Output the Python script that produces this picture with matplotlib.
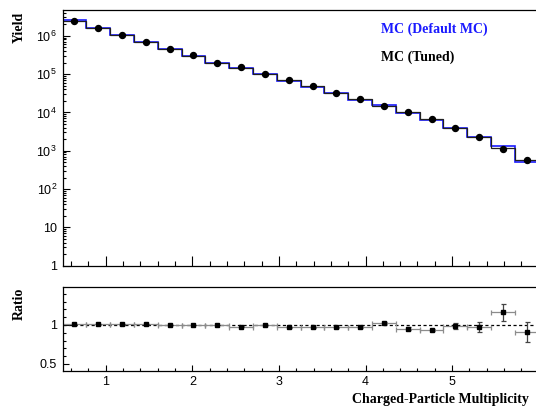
import numpy as np
import matplotlib
matplotlib.use("Agg")
import matplotlib.pyplot as plt
from matplotlib.ticker import FixedLocator, MultipleLocator, LogLocator, FuncFormatter, NullFormatter

# --- data ---
x_lo, x_hi, n_bins = 0.5, 6.0, 20
x_major = [1, 2, 3, 4, 5]

data_yield = [2.5e6, 1.57e6, 1.05e6, 6.7e5, 4.4e5, 3.1e5, 2.0e5, 1.5e5, 9.8e4, 6.8e4,
              4.8e4, 3.3e4, 2.2e4, 1.45e4, 1.0e4, 6.7e3, 3.85e3, 2.35e3, 1.13e3, 590]
mc_tuned = [2.5e6, 1.6e6, 1.05e6, 6.8e5, 4.4e5, 3.05e5, 2.0e5, 1.45e5, 9.8e4, 6.8e4,
            4.75e4, 3.25e4, 2.2e4, 1.5e4, 1.0e4, 6.9e3, 3.9e3, 2.35e3, 1.15e3, 572]
mc_default = [2.52e6, 1.61e6, 1.06e6, 6.85e5, 4.4e5, 3.05e5, 2.0e5, 1.42e5, 9.8e4, 6.6e4,
              4.6e4, 3.15e4, 2.15e4, 1.53e4, 9.5e3, 6.5e3, 3.85e3, 2.3e3, 1.33e3, 520]

ratio = [1.01, 1.01, 1.01, 1.01, 1.0, 1.0, 1.0, 0.98, 1.0, 0.97,
         0.97, 0.97, 0.974, 1.02, 0.953, 0.936, 0.99, 0.974, 1.163, 0.91]
ratio_err = [0.004, 0.004, 0.004, 0.004, 0.005, 0.005, 0.005, 0.006, 0.006, 0.007,
             0.008, 0.009, 0.01, 0.012, 0.015, 0.018, 0.04, 0.06, 0.11, 0.13]

serif = ["Liberation Serif", "DejaVu Serif"]
plt.rcParams["font.family"] = ["Liberation Sans", "DejaVu Sans"]
plt.rcParams["mathtext.fontset"] = "custom"
plt.rcParams["mathtext.rm"] = "Liberation Sans"
plt.rcParams["mathtext.it"] = "Liberation Sans:italic"

edges = np.linspace(x_lo, x_hi, n_bins + 1)
centers = 0.5 * (edges[:-1] + edges[1:])
half_w = 0.5 * (edges[1] - edges[0])

fig = plt.figure(figsize=(5.36, 4.09), dpi=100)
W, H = 536.0, 409.0
ax = fig.add_axes([62.5 / W, 1 - 265.7 / H, (538.7 - 62.5) / W, (265.7 - 10) / H])
axr = fig.add_axes([62.5 / W, 1 - 370.7 / H, (538.7 - 62.5) / W, (370.7 - 287.3) / H])

# --- top panel: yields ---
ax.stairs(mc_default, edges, baseline=None, color="#1a1aff", lw=1.2)
ax.stairs(mc_tuned, edges, baseline=None, color="#202020", lw=0.9)
ax.plot(centers, data_yield, "o", color="black", ms=4.3, zorder=5)

ax.set_yscale("log")
ax.set_xlim(x_lo, x_hi)
ax.set_ylim(1, 4.7e6)
ax.yaxis.set_major_locator(LogLocator(base=10, numticks=10))
ax.yaxis.set_minor_locator(LogLocator(base=10, subs=np.arange(2, 10), numticks=20))
ax.yaxis.set_minor_formatter(NullFormatter())


def fmt_log(v, pos):
    if v <= 1.0001:
        return "1"
    e = int(round(np.log10(v)))
    if e == 1:
        return "10"
    return r"$\mathregular{10^{%d}}$" % e


ax.yaxis.set_major_formatter(FuncFormatter(fmt_log))
ax.tick_params(axis="y", which="major", direction="in", length=5, width=0.8, labelsize=9, pad=4)
ax.tick_params(axis="y", which="minor", direction="in", length=2.5, width=0.8)
ax.tick_params(axis="x", which="major", direction="in", length=7, width=0.8, labelbottom=False)
ax.tick_params(axis="x", which="minor", direction="in", length=3.5, width=0.8)
ax.xaxis.set_major_locator(FixedLocator(x_major))
ax.xaxis.set_minor_locator(MultipleLocator(0.2))

ax.text(381 / W, 1 - 29 / H, "MC (Default MC)", transform=fig.transFigure, color="#1a1aff",
        fontsize=10, fontweight="bold", family=serif, va="center", ha="left")
ax.text(381 / W, 1 - 57.5 / H, "MC (Tuned)", transform=fig.transFigure, color="black",
        fontsize=10, fontweight="bold", family=serif, va="center", ha="left")

# --- bottom panel: ratio ---
axr.axhline(1.0, color="black", lw=0.9, ls=(0, (2.5, 2)), zorder=1)
axr.errorbar(centers, ratio, xerr=half_w, fmt="none", ecolor="#8c8c8c", elinewidth=0.9,
             capsize=1.8, capthick=0.9, zorder=2)
axr.errorbar(centers, ratio, yerr=ratio_err, fmt="s", color="black", ms=3,
             ecolor="#444444", elinewidth=0.9, capsize=1.8, capthick=0.9, zorder=3)

axr.set_xlim(x_lo, x_hi)
axr.set_ylim(0.414, 1.483)
axr.yaxis.set_major_locator(FixedLocator([0.5, 1.0]))
axr.yaxis.set_major_formatter(FuncFormatter(lambda v, p: "1" if abs(v - 1) < 1e-6 else "%g" % v))
axr.yaxis.set_minor_locator(MultipleLocator(0.1))
axr.xaxis.set_major_locator(FixedLocator(x_major))
axr.xaxis.set_minor_locator(MultipleLocator(0.2))
axr.tick_params(axis="both", which="major", direction="in", length=4.5, width=0.8, labelsize=9, pad=4)
axr.tick_params(axis="both", which="minor", direction="in", length=2.2, width=0.8)

for a in (ax, axr):
    for s in a.spines.values():
        s.set_linewidth(0.9)

fig.text(19.5 / W, 1 - 12 / H, "Yield", rotation=90, ha="center", va="top",
         fontsize=10, fontweight="bold", family=serif)
fig.text(19.5 / W, 1 - 288 / H, "Ratio", rotation=90, ha="center", va="top",
         fontsize=10, fontweight="bold", family=serif)
fig.text(529 / W, 1 - 400 / H, "Charged-Particle Multiplicity", ha="right", va="center",
         fontsize=10, fontweight="bold", family=serif)

fig.savefig("out.png", dpi=100)
